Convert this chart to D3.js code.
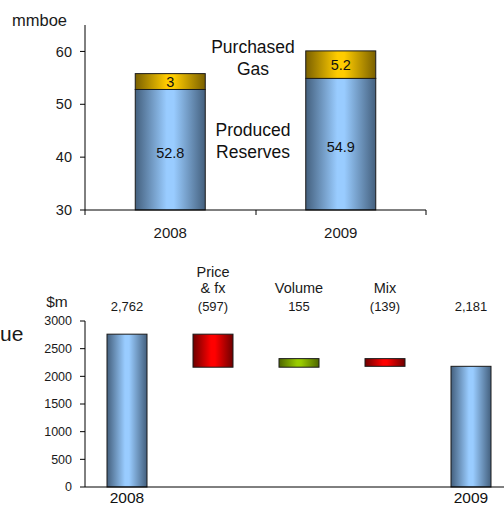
<!DOCTYPE html>
<html>
<head>
<meta charset="utf-8">
<script src="https://cdn.jsdelivr.net/npm/d3@7"></script>
<style>
  body { margin: 0; background: #fff; }
  svg { display: block; font-family: "Liberation Sans", Arial, sans-serif; }
</style>
</head>
<body>
<svg id="chart" width="504" height="506"></svg>
<script>
// top chart data (mmboe)
var years = ["2008", "2009"];
var produced = [52.8, 54.9];
var purchased = [3, 5.2];
var topTicks = [30, 40, 50, 60];

// bottom chart data ($m) - waterfall
var steps = ["2008", "Price & fx", "Volume", "Mix", "2009"];
var stepTitles = [[], ["Price", "& fx"], ["Volume"], ["Mix"], []];
var stepValues = [2762, -597, 155, -139, 2181];
var stepLabels = ["2,762", "(597)", "155", "(139)", "2,181"];
var stepKinds = ["total", "neg", "pos", "neg", "total"];
var botTicks = [0, 500, 1000, 1500, 2000, 2500, 3000];

var svg = d3.select("#chart");
var defs = svg.append("defs");

// horizontal gradients, dark edges, light middle
function grad(id, edge, mid) {
  var g = defs.append("linearGradient").attr("id", id)
    .attr("x1", "0%").attr("x2", "100%").attr("y1", "0%").attr("y2", "0%");
  g.append("stop").attr("offset", "0%").attr("stop-color", edge);
  g.append("stop").attr("offset", "45%").attr("stop-color", mid);
  g.append("stop").attr("offset", "55%").attr("stop-color", mid);
  g.append("stop").attr("offset", "100%").attr("stop-color", edge);
}
grad("gBlue", "#44607e", "#99ccff");
grad("gGold", "#7a6000", "#ffcc00");
grad("gRed", "#6e0000", "#ff0000");
grad("gGreen", "#4e6600", "#99cc00");

var axisCol = "#000";
var txt = "#1a1a1a";

/////////////// top chart
var xTop = d3.scaleBand().domain(years).range([85, 426]).paddingInner(0).paddingOuter(0);
var yTop = d3.scaleLinear().domain([30, 65]).range([210, 25]);
var barW = 70;

var gt = svg.append("g");

// y axis
gt.append("line").attr("x1", 85).attr("x2", 85).attr("y1", yTop(65)).attr("y2", yTop(30))
  .attr("stroke", axisCol);
gt.selectAll(".yt").data(topTicks).enter().append("line")
  .attr("x1", 80).attr("x2", 85).attr("y1", d => yTop(d)).attr("y2", d => yTop(d))
  .attr("stroke", axisCol);
gt.selectAll(".ytl").data(topTicks).enter().append("text")
  .attr("x", 72).attr("y", d => yTop(d)).attr("dy", "0.35em")
  .attr("text-anchor", "end").attr("font-size", 14.5).attr("fill", txt)
  .text(d => d);
gt.append("text").attr("x", 12).attr("y", 26).attr("font-size", 16.5).attr("fill", txt).text("mmboe");

// bars
years.forEach(function(yr, i) {
  var cx = xTop(yr) + xTop.bandwidth() / 2;
  gt.append("rect").attr("x", cx - barW / 2).attr("width", barW)
    .attr("y", yTop(produced[i])).attr("height", yTop(30) - yTop(produced[i]))
    .attr("fill", "url(#gBlue)").attr("stroke", "#1a1a1a").attr("stroke-width", 1);
  var tot = produced[i] + purchased[i];
  gt.append("rect").attr("x", cx - barW / 2).attr("width", barW)
    .attr("y", yTop(tot)).attr("height", yTop(produced[i]) - yTop(tot))
    .attr("fill", "url(#gGold)").attr("stroke", "#1a1a1a").attr("stroke-width", 1);
  gt.append("text").attr("x", cx).attr("y", yTop((30 + produced[i]) / 2) + 3).attr("dy", "0.35em")
    .attr("text-anchor", "middle").attr("font-size", 14.5).attr("fill", "#111").text(produced[i]);
  gt.append("text").attr("x", cx).attr("y", yTop(produced[i] + purchased[i] / 2)).attr("dy", "0.35em")
    .attr("text-anchor", "middle").attr("font-size", 14.5).attr("fill", "#111").text(purchased[i]);
  gt.append("text").attr("x", cx).attr("y", 238)
    .attr("text-anchor", "middle").attr("font-size", 15).attr("fill", txt).text(yr);
});

// x axis
gt.append("line").attr("x1", 85).attr("x2", 426).attr("y1", 210).attr("y2", 210).attr("stroke", axisCol);
[85, 256, 426].forEach(function(x) {
  gt.append("line").attr("x1", x).attr("x2", x).attr("y1", 210).attr("y2", 215).attr("stroke", axisCol);
});

// legend-like labels
[["Purchased", 53], ["Gas", 75], ["Produced", 136], ["Reserves", 158]].forEach(function(l) {
  gt.append("text").attr("x", 253).attr("y", l[1]).attr("text-anchor", "middle")
    .attr("font-size", 17.5).attr("fill", "#111").text(l[0]);
});

/////////////// bottom chart
var xBot = d3.scaleBand().domain(steps).range([84, 514]);
var yBot = d3.scaleLinear().domain([0, 3000]).range([487, 321]);
var bw = 40;

var gb = svg.append("g");

gb.append("line").attr("x1", 85).attr("x2", 85).attr("y1", yBot(3000)).attr("y2", yBot(0)).attr("stroke", axisCol);
gb.selectAll(".yt").data(botTicks).enter().append("line")
  .attr("x1", 80).attr("x2", 85).attr("y1", d => yBot(d)).attr("y2", d => yBot(d)).attr("stroke", axisCol);
gb.selectAll(".ytl").data(botTicks).enter().append("text")
  .attr("x", 72).attr("y", d => yBot(d)).attr("dy", "0.35em")
  .attr("text-anchor", "end").attr("font-size", 12.5).attr("fill", txt).text(d => d);
gb.append("text").attr("x", 57).attr("y", 307).attr("text-anchor", "middle")
  .attr("font-size", 15.5).attr("fill", txt).text("$m");
gb.append("text").attr("x", 0).attr("y", 341).attr("font-size", 21).attr("fill", txt).text("ue");

var running = 0;
steps.forEach(function(s, i) {
  var cx = xBot(s) + xBot.bandwidth() / 2;
  var top, bot, fill;
  if (stepKinds[i] === "total") {
    top = stepValues[i]; bot = 0; running = stepValues[i]; fill = "url(#gBlue)";
  } else {
    var next = running + stepValues[i];
    top = Math.max(running, next); bot = Math.min(running, next);
    fill = stepKinds[i] === "pos" ? "url(#gGreen)" : "url(#gRed)";
    running = next;
  }
  gb.append("rect").attr("x", cx - bw / 2).attr("width", bw)
    .attr("y", yBot(top)).attr("height", yBot(bot) - yBot(top))
    .attr("fill", fill).attr("stroke", "#1a1a1a").attr("stroke-width", 1);
  gb.append("text").attr("x", cx).attr("y", 311).attr("text-anchor", "middle")
    .attr("font-size", 13).attr("fill", txt).text(stepLabels[i]);
  stepTitles[i].forEach(function(t, j, arr) {
    gb.append("text").attr("x", cx).attr("y", 293 - (arr.length - 1 - j) * 16)
      .attr("text-anchor", "middle").attr("font-size", 14.5).attr("fill", txt).text(t);
  });
});

gb.append("line").attr("x1", 85).attr("x2", 504).attr("y1", 487).attr("y2", 487).attr("stroke", axisCol);
[["2008", 0], ["2009", 4]].forEach(function(p) {
  gb.append("text").attr("x", xBot(steps[p[1]]) + xBot.bandwidth() / 2).attr("y", 503)
    .attr("text-anchor", "middle").attr("font-size", 15.5).attr("fill", "#111").text(p[0]);
});
</script>
</body>
</html>
